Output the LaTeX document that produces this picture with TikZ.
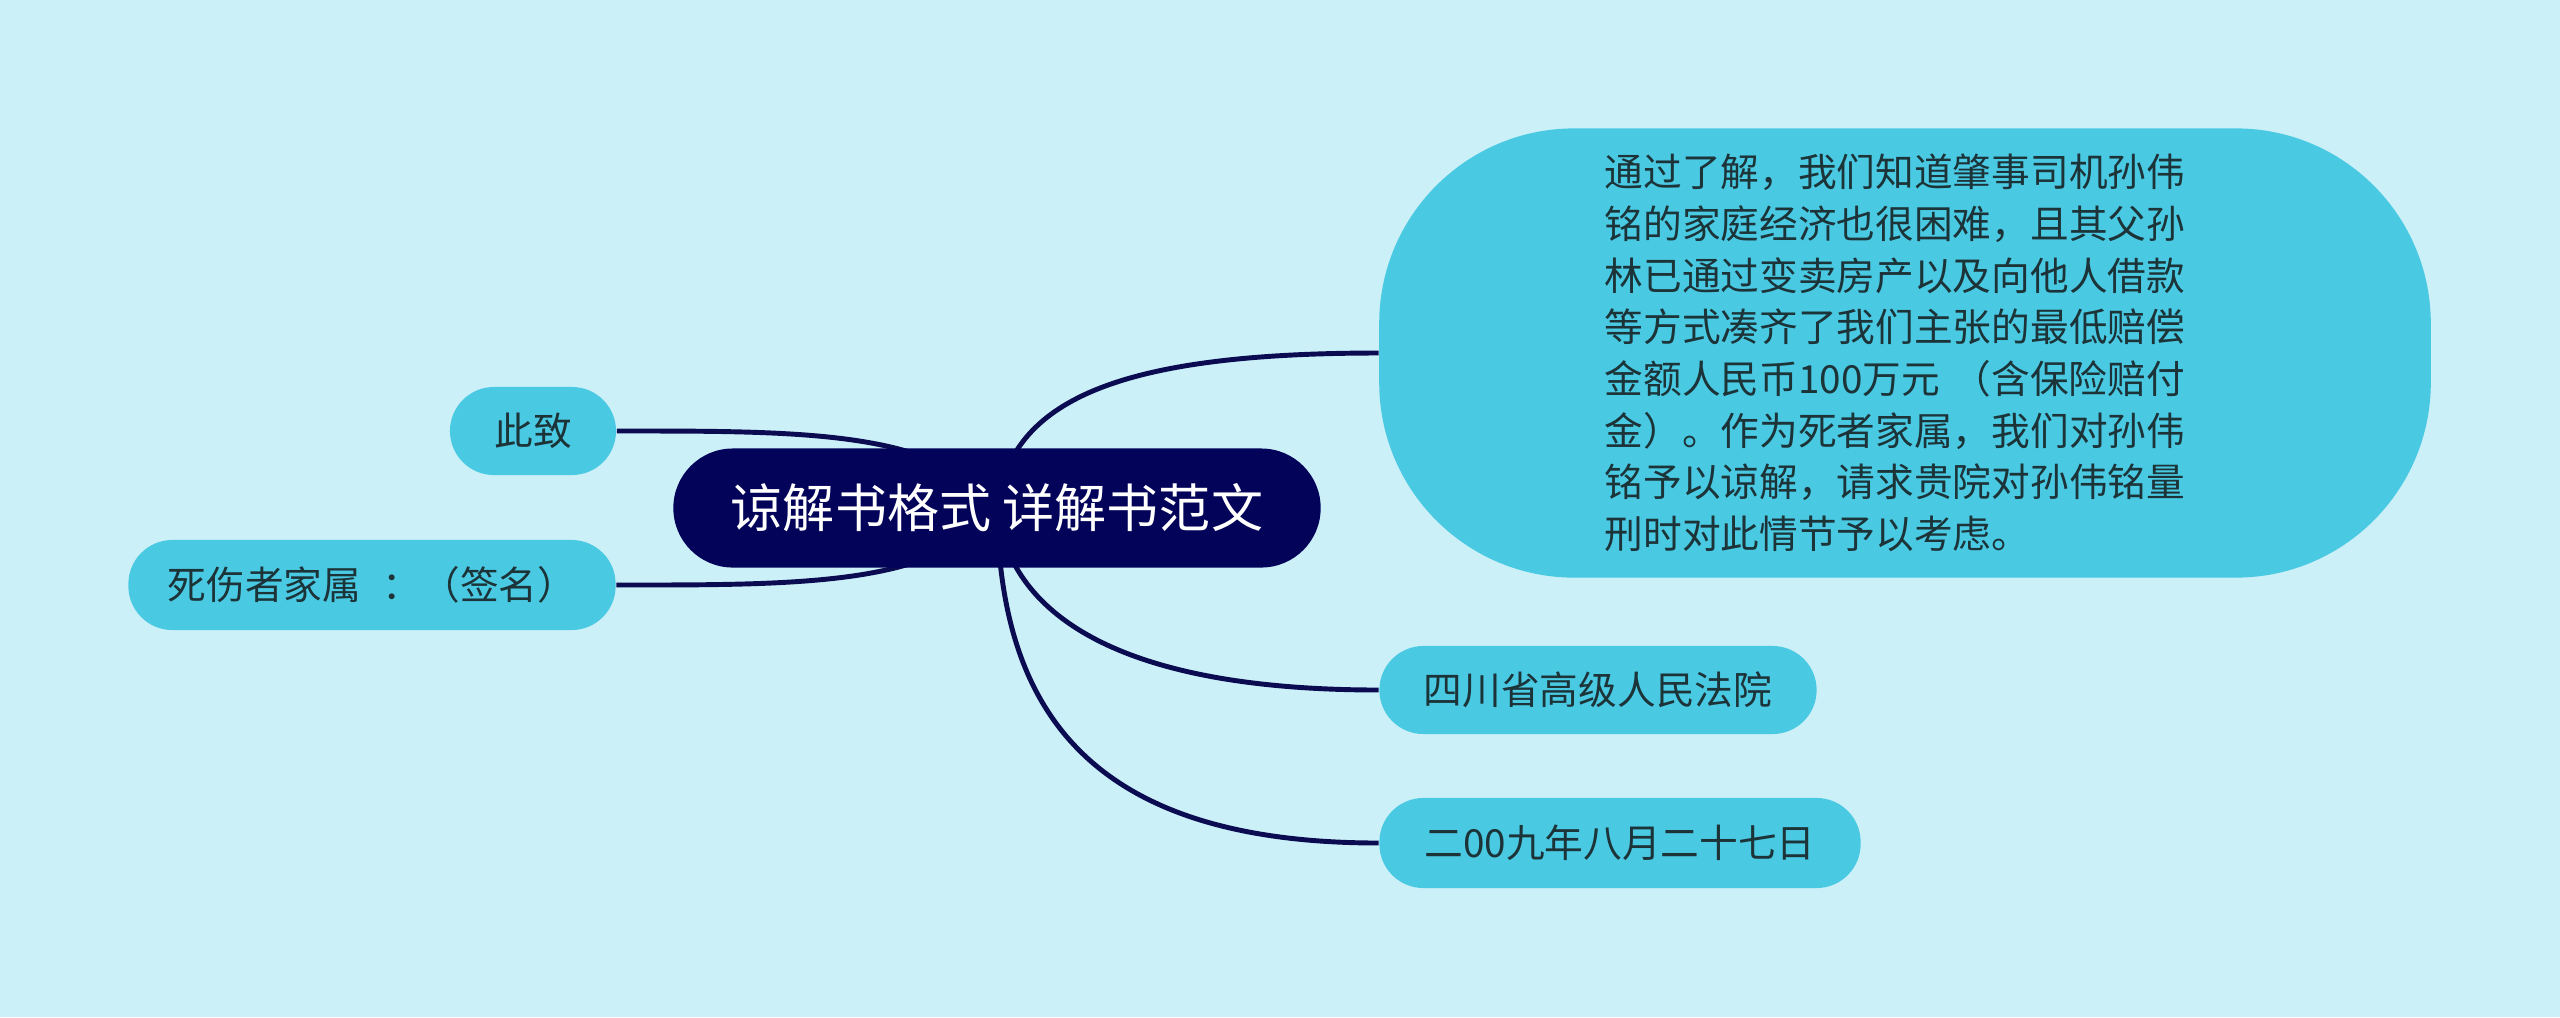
\documentclass[tikz,border=0pt]{standalone}
\usepackage{fontspec}
\newfontfamily\cjk{Noto Sans CJK SC}
\usetikzlibrary{backgrounds}
\definecolor{bgcol}{HTML}{CBF0F7}
\definecolor{leafcol}{HTML}{4AC9E3}
\definecolor{rootcol}{HTML}{03035A}
\definecolor{linkcol}{HTML}{0B0B52}
\definecolor{txtcol}{HTML}{1C3338}
\begin{document}
\begin{tikzpicture}[x=0.01cm,y=-0.01cm,
  hub/.style={fill=rootcol,text=white,rounded corners=0.595cm,minimum height=1.19cm,inner sep=0pt,
    font=\cjk\fontsize{14.8pt}{17pt}\selectfont},
  leaf/.style={fill=leafcol,text=txtcol,rounded corners=0.44cm,minimum height=0.88cm,inner sep=0pt,
    font=\cjk\fontsize{11pt}{14.7pt}\selectfont},
  link/.style={draw=linkcol,line width=1.4pt}]
\useasboundingbox (0,0) rectangle (2560,1017);

% Central topic
\node[hub,minimum width=6.47cm] (root) at (997,508) {谅解书格式 详解书范文};

% Left branches
\node[leaf,minimum width=1.66cm] (zhici) at (533,431) {此致};
\node[leaf,minimum width=4.87cm,minimum height=0.9cm] (family) at (372,585) {死伤者家属\hspace{0.55em}：（签名）};

% Right branches
\node[leaf,minimum width=10.51cm,minimum height=4.49cm,rounded corners=1.95cm,
  text width=6cm,align=left] (detail) at (1905,353)
  {通过了解，我们知道肇事司机孙伟\\铭的家庭经济也很困难，且其父孙\\林已通过变卖房产以及向他人借款\\等方式凑齐了我们主张的最低赔偿\\金额人民币100万元 （含保险赔付\\金）。作为死者家属，我们对孙伟\\铭予以谅解，请求贵院对孙伟铭量\\刑时对此情节予以考虑。};
\node[leaf,minimum width=4.37cm] (court) at (1598,690) {四川省高级人民法院};
\node[leaf,minimum width=4.81cm,minimum height=0.9cm] (date) at (1620,843) {二00九年八月二十七日};

% Connectors (under the nodes)
\begin{scope}[on background layer]
\fill[bgcol] (0,0) rectangle (2560,1017);
\draw[link] (root.center) .. controls +(-57,-78) and +(184,0) .. (zhici.east);
\draw[link] (root.center) .. controls +(-57,78) and +(184,0) .. (family.east);
\draw[link] (root.center) .. controls +(13,-108) and +(-260,0) .. (detail.west);
\draw[link] (root.center) .. controls +(13,112) and +(-250,0) .. (court.west);
\draw[link] (root.center) .. controls +(3,192) and +(-300,0) .. (date.west);
\end{scope}
\end{tikzpicture}
\end{document}
